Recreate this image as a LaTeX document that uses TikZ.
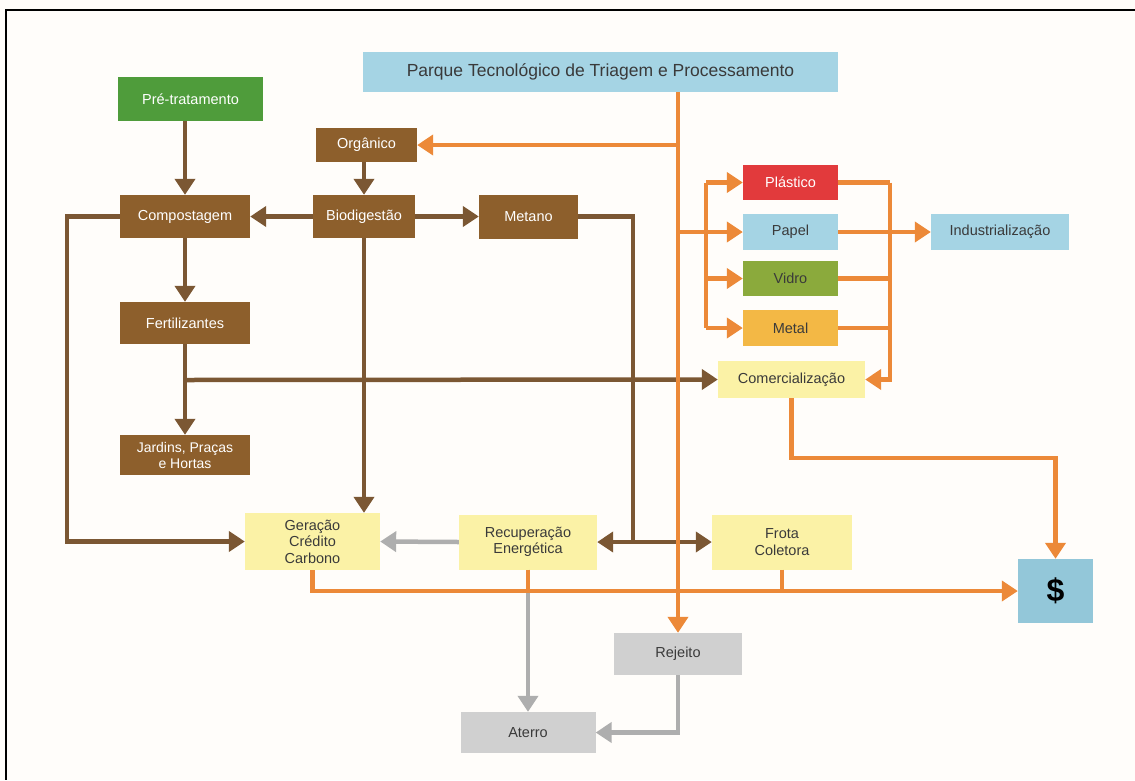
\documentclass[tikz,border=0pt]{standalone}
\usepackage{fontspec}
\setmainfont{Liberation Sans}
\usetikzlibrary{arrows.meta}
\definecolor{bgc}{HTML}{FFFDFA}
\definecolor{brn}{HTML}{8D5F2C}
\definecolor{brnline}{HTML}{7B5733}
\definecolor{grn}{HTML}{4F9C3B}
\definecolor{lblue}{HTML}{A5D4E4}
\definecolor{dblue}{HTML}{93C7D9}
\definecolor{pred}{HTML}{E23A3C}
\definecolor{vgrn}{HTML}{8BAA3C}
\definecolor{mtl}{HTML}{F3B845}
\definecolor{ylw}{HTML}{FBF2A6}
\definecolor{gbox}{HTML}{D0D0D0}
\definecolor{gline}{HTML}{AEAEAE}
\definecolor{orn}{HTML}{EC8938}
\definecolor{txt}{HTML}{3A3A3A}
\begin{document}
\begin{tikzpicture}[x=1pt,y=-1pt,
  box/.style={rectangle, inner sep=0pt, align=center, text=txt,
    font=\fontsize{14.5}{16.5}\selectfont},
  wbox/.style={box, text=white},
  tip/.style={-{Triangle[length=16pt,width=20pt]}},
  bl/.style={draw=brnline, line width=4.5pt},
  ol/.style={draw=orn, line width=4.5pt},
  gl/.style={draw=gline, line width=4.5pt},
]
\useasboundingbox (0,0) rectangle (1135,780);
\fill[bgc] (0,0) rectangle (1135,780);
\draw[line width=2.5pt, black] (1135,10) -- (6,10) -- (6,780);

% nodes
\node[box, fill=lblue, minimum width=475pt, minimum height=40pt,
  font=\fontsize{17.5}{19}\selectfont] (parque) at (600.5,72)
  {Parque Tecnológico de Triagem e Processamento};
\node[wbox, fill=grn, minimum width=145pt, minimum height=44pt] (pre) at (190.5,99) {Pré-tratamento};
\node[wbox, fill=brn, minimum width=101pt, minimum height=34pt] (org) at (366.5,145) {Orgânico};
\node[wbox, fill=brn, minimum width=130pt, minimum height=43pt] (comp) at (185,216.5) {Compostagem};
\node[wbox, fill=brn, minimum width=102pt, minimum height=43pt] (bio) at (364,216.5) {Biodigestão};
\node[wbox, fill=brn, minimum width=99pt, minimum height=44pt] (met) at (528.5,216.5) {Metano};
\node[wbox, fill=brn, minimum width=130pt, minimum height=42pt] (fert) at (185,323) {Fertilizantes};
\node[wbox, fill=brn, minimum width=130pt, minimum height=40pt,
  font=\fontsize{14}{16}\selectfont] (jard) at (185,455) {Jardins, Praças\\e Hortas};
\node[wbox, fill=pred, minimum width=95pt, minimum height=35pt] (plas) at (790.5,182.5) {Plástico};
\node[box, fill=lblue, minimum width=95pt, minimum height=36pt] (papel) at (790.5,232) {Papel};
\node[box, fill=vgrn, minimum width=95pt, minimum height=35pt] (vidro) at (790.5,278.5) {Vidro};
\node[box, fill=mtl, minimum width=95pt, minimum height=36pt] (metal) at (790.5,328) {Metal};
\node[box, fill=lblue, minimum width=138pt, minimum height=36pt] (ind) at (1000,232) {Industrialização};
\node[box, fill=ylw, minimum width=147pt, minimum height=37pt] (com) at (791.5,379.5) {Comercialização};
\node[box, fill=ylw, minimum width=135pt, minimum height=57pt] (ger) at (312.5,541.5) {Geração\\Crédito\\Carbono};
\node[box, fill=ylw, minimum width=138pt, minimum height=55pt] (rec) at (528,542) {Recuperação\\Energética};
\node[box, fill=ylw, minimum width=140pt, minimum height=55pt] (frota) at (782,542) {Frota\\Coletora};
\node[box, fill=dblue, minimum width=75pt, minimum height=64pt, text=black,
  font=\fontsize{32}{34}\selectfont\bfseries] (dol) at (1055.5,591) {\$};
\node[box, fill=gbox, minimum width=128pt, minimum height=42pt] (rej) at (678,654) {Rejeito};
\node[box, fill=gbox, minimum width=135pt, minimum height=41pt] (ater) at (528,732.5) {Aterro};

% junction coordinates
\coordinate (fj) at (185,380);
\coordinate (cl) at (67,216.5);
\coordinate (mj) at (633,542);
\coordinate (ox) at (706,182.5);
\coordinate (rx) at (890,182.5);
\coordinate (cd) at (791.5,458);
\coordinate (bot) at (312.5,591);

% brown connectors
\draw[bl,tip] (pre.south -| comp.north) -- (comp.north);
\draw[bl,tip] (org.south -| bio.north) -- (bio.north);
\draw[bl,tip] (bio.west) -- (comp.east);
\draw[bl,tip] (bio.east) -- (met.west);
\draw[bl,tip] (comp.south) -- (fert.north);
\draw[bl,tip] (fert.south) -- (jard.north);
\draw[bl,tip] (fj) -- (com.west);
\draw[bl,tip] (comp.west) -- (cl) |- (ger.west);
\draw[bl,tip] (bio.south) -- (bio.south |- ger.north);
\draw[bl] (met.east) -| (mj);
\draw[bl,tip] (mj) -- (rec.east);
\draw[bl,tip] (mj) -- (frota.west);

% gray connectors
\draw[gl,tip] (rec.west) -- (ger.east);
\draw[gl,tip] (rec.south) -- (ater.north);
\draw[gl,tip] (rej.south) |- (ater.east);

% orange connectors
\draw[ol,tip] (parque.south -| rej.north) -- (rej.north);
\draw[ol,tip] (org.east -| rej.north) -- (org.east);
\draw[ol,tip] (papel.west -| rej.north) -- (papel.west);
\draw[ol] (ox) -- (ox |- metal.west);
\draw[ol,tip] (ox) -- (plas.west);
\draw[ol,tip] (ox |- vidro.west) -- (vidro.west);
\draw[ol,tip] (ox |- metal.west) -- (metal.west);
\draw[ol] (plas.east) -- (rx);
\draw[ol,tip] (rx) |- (com.east);
\draw[ol] (vidro.east) -- (vidro.east -| rx);
\draw[ol] (metal.east) -- (metal.east -| rx);
\draw[ol,tip] (papel.east) -- (ind.west);
\draw[ol,tip] (com.south) -- (cd) -| (dol.north);
\draw[ol,tip] (ger.south) -- (bot) -- (dol.west);
\draw[ol] (rec.south) -- (rec.south |- bot);
\draw[ol] (frota.south) -- (frota.south |- bot);
\end{tikzpicture}
\end{document}
